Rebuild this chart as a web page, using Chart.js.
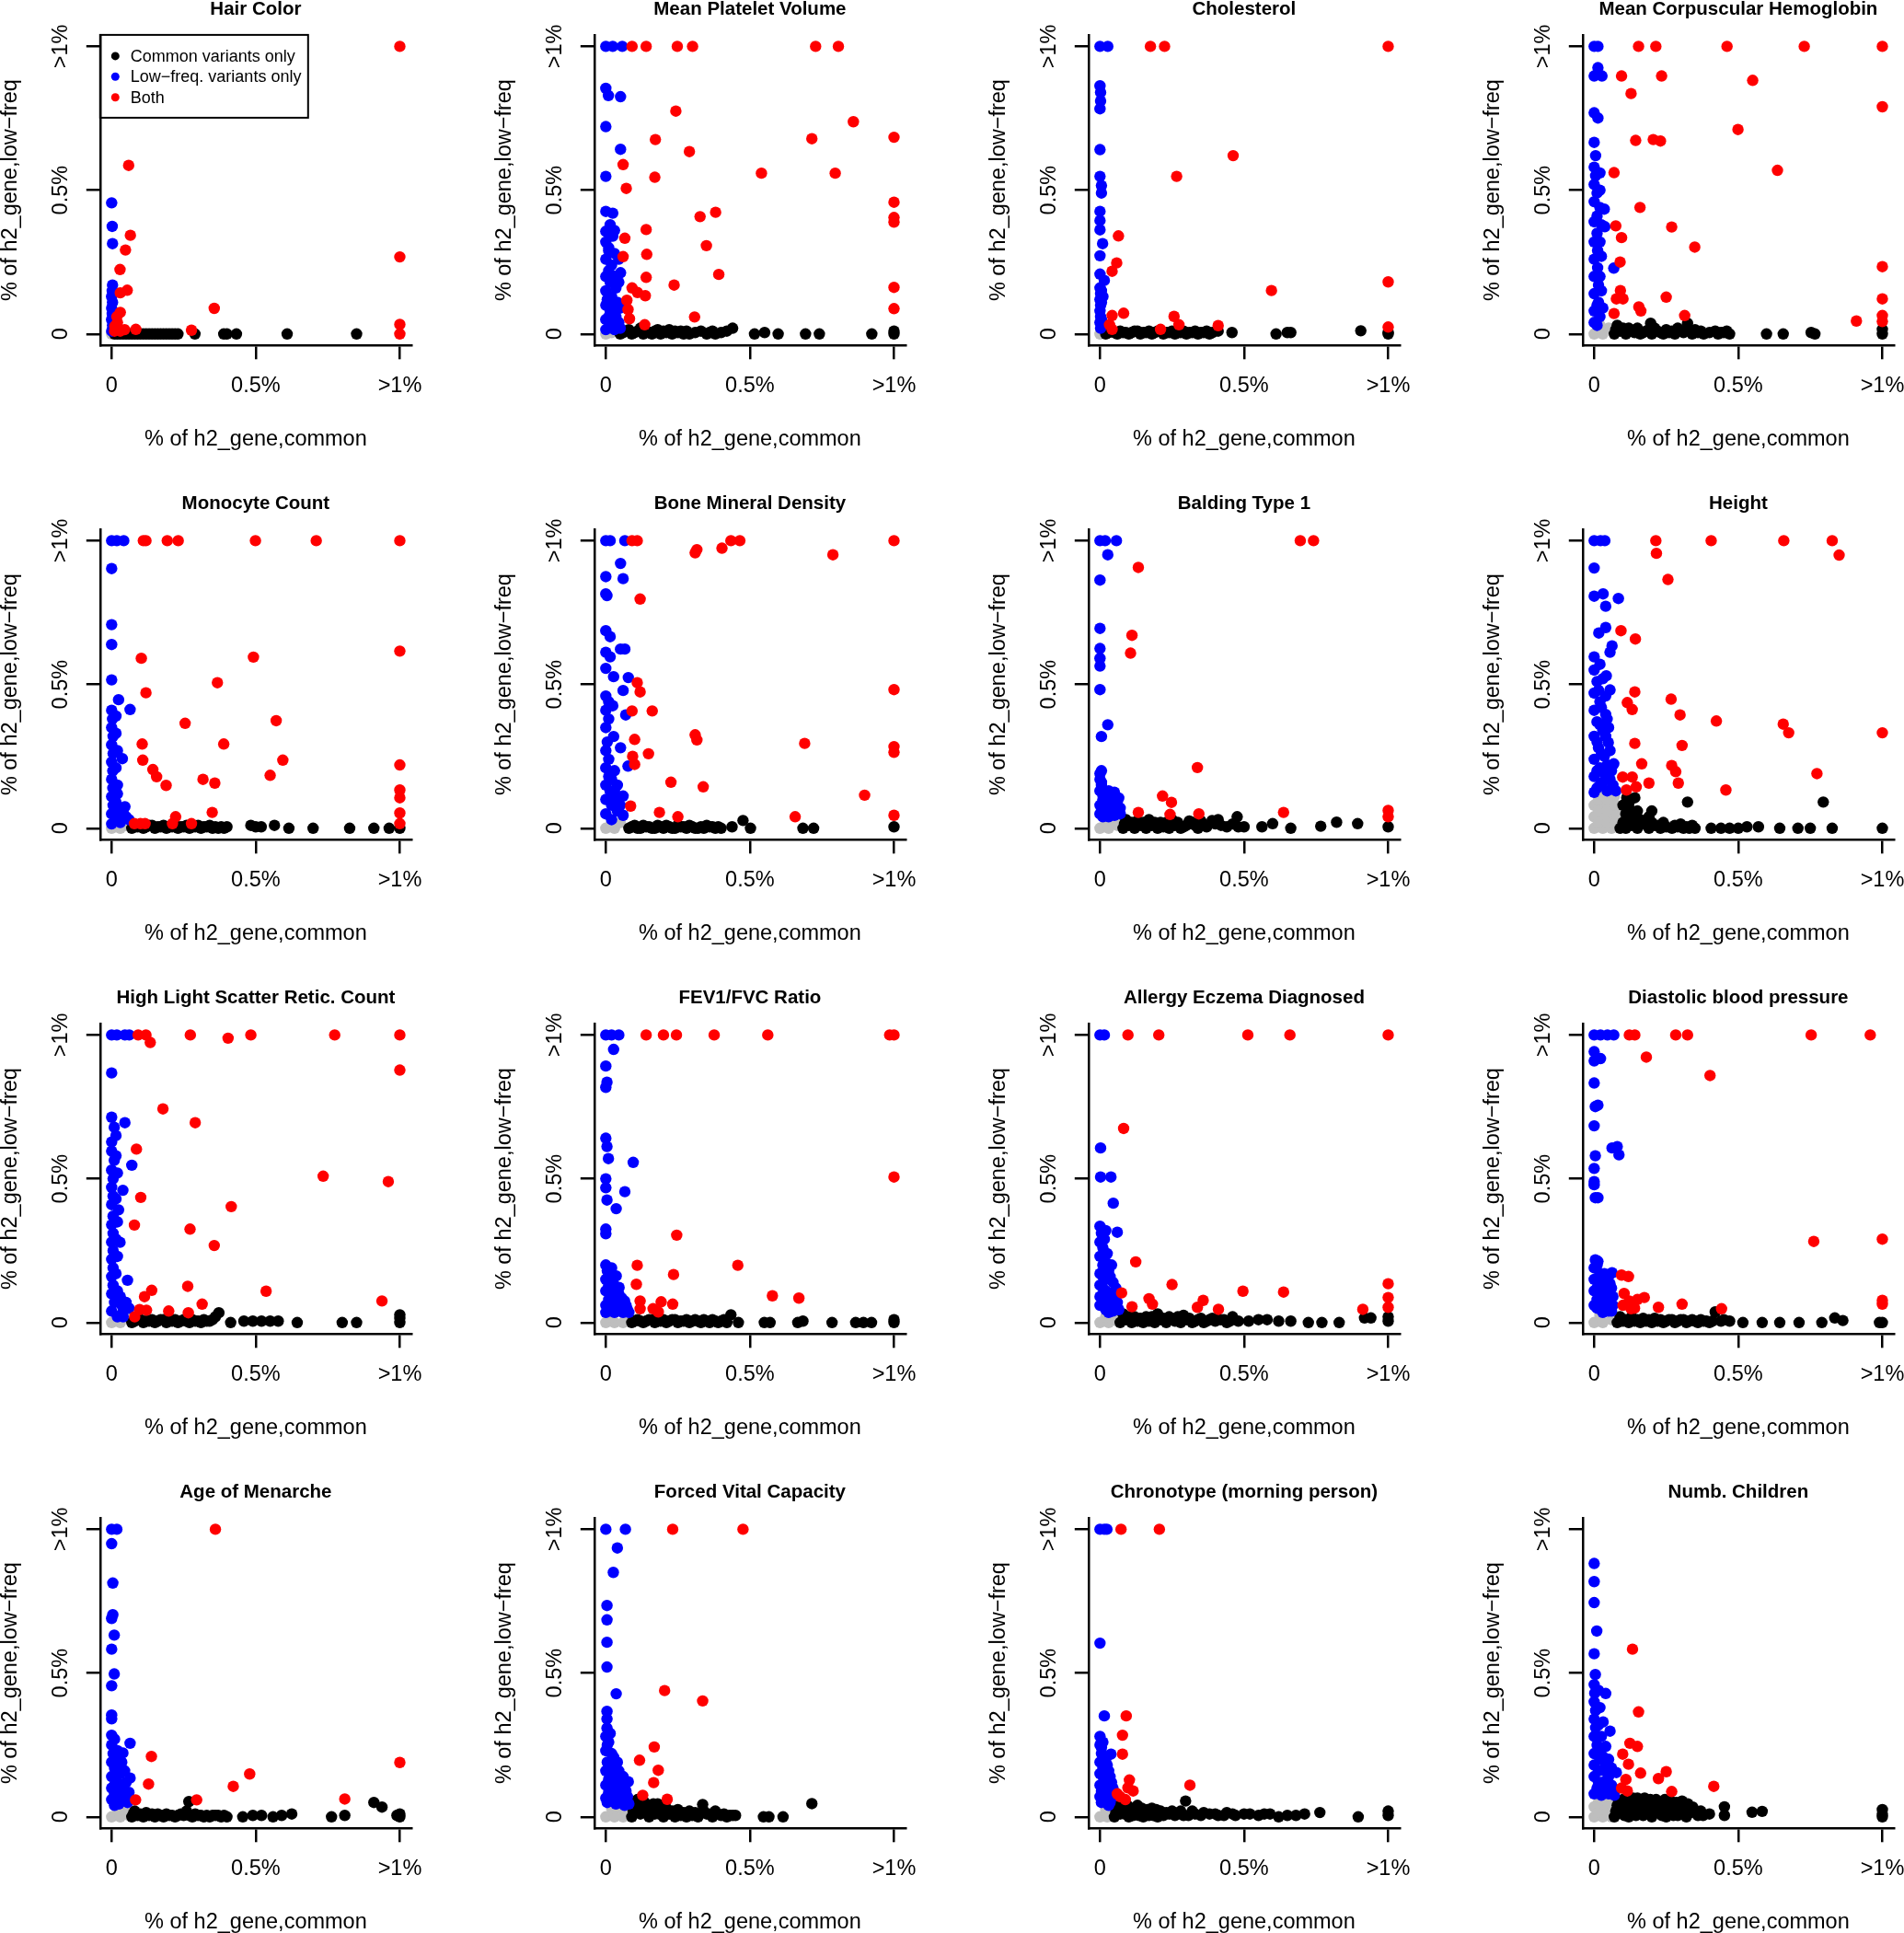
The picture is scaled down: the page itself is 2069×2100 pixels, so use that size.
<!DOCTYPE html>
<html>
<head>
<meta charset="utf-8">
<script src="https://cdn.jsdelivr.net/npm/chart.js@4.4.1/dist/chart.umd.min.js"></script>
<style>
  html, body { margin: 0; padding: 0; background: #fff; width: 2069px; height: 2100px; overflow: hidden; }
  .panel { position: absolute; width: 537px; height: 537px; }
</style>
</head>
<body>
<script>
// Titles and axis text
const panelTitles = [
  "Hair Color", "Mean Platelet Volume", "Cholesterol", "Mean Corpuscular Hemoglobin",
  "Monocyte Count", "Bone Mineral Density", "Balding Type 1", "Height",
  "High Light Scatter Retic. Count", "FEV1/FVC Ratio", "Allergy Eczema Diagnosed", "Diastolic blood pressure",
  "Age of Menarche", "Forced Vital Capacity", "Chronotype (morning person)", "Numb. Children"
];
const tickValues = [0, 0.5, 1];
const tickLabels = ["0", "0.5%", ">1%"];
const xTitle = "% of h2_gene,common";
const yTitle = "% of h2_gene,low\u2212freq";
const seriesNames = ["Common variants only", "Low\u2212freq. variants only", "Both"];

// Points [x, y] per panel (same order as panelTitles)
const commonOnly = [
  [[0.01,0],[0.02,0],[0.03,0],[0.04,0],[0.05,0],[0.06,0],[0.07,0],[0.08,0],[0.09,0],[0.1,0],[0.11,0],[0.12,0],[0.13,0],[0.14,0],[0.15,0],[0.16,0],[0.17,0],[0.18,0],[0.19,0],[0.2,0],[0.21,0],[0.22,0],[0.23,0],[0.289,0],[0.389,0],[0.4,0],[0.433,0],[0.609,0],[0.85,0]],
  [[0.05,0],[0.07,0.01],[0.09,0],[0.11,0.01],[0.13,0],[0.15,0.005],[0.17,0.01],[0.19,0],[0.21,0.005],[0.23,0],[0.25,0.005],[0.27,0],[0.29,0],[0.31,0.005],[0.36,0.005],[0.38,0],[0.4,0.005],[0.42,0.01],[0.44,0.02],[0.516,0],[0.551,0.005],[0.598,0],[0.693,0],[0.741,0],[0.923,0],[1,0.01],[1,0],
   [0.06,0.005],[0.08,0.015],[0.1,0.005],[0.12,0.02],[0.14,0.01],[0.16,0],[0.18,0.015],[0.2,0.01],[0.22,0.015],[0.24,0.01],[0.26,0.01],[0.28,0.01],[0.33,0.01],[0.35,0],[0.37,0.01]],
  [[0.02,0],[0.04,0.01],[0.06,0],[0.08,0.005],[0.1,0],[0.12,0.01],[0.14,0],[0.16,0.005],[0.18,0],[0.2,0.01],[0.22,0],[0.24,0.005],[0.26,0],[0.28,0.005],[0.3,0],[0.32,0.005],[0.34,0],[0.36,0.005],[0.38,0],[0.41,0.01],[0.458,0.005],[0.611,0],[0.65,0.005],[0.662,0.005],[0.905,0.011],[1,0.005],[1,0],
   [0.03,0.005],[0.05,0.005],[0.07,0.01],[0.09,0.005],[0.11,0.005],[0.13,0.01],[0.15,0.005],[0.17,0.01],[0.19,0.005],[0.21,0.01],[0.23,0.005],[0.25,0.01],[0.27,0.005],[0.29,0.01],[0.31,0.005],[0.33,0.01],[0.35,0.005],[0.37,0.01],[0.39,0.005]],
  [[0.07,0],[0.08,0.03],[0.09,0.01],[0.11,0],[0.12,0.02],[0.14,0.005],[0.16,0],[0.18,0.01],[0.196,0.037],[0.2,0],[0.22,0.01],[0.24,0],[0.26,0.005],[0.28,0],[0.3,0.01],[0.324,0.037],[0.34,0],[0.36,0.005],[0.38,0],[0.43,0],[0.45,0.005],[0.47,0],[0.598,0],[0.656,0],[0.753,0.005],[0.766,0],[1,0.016],[1,0],
   [0.075,0.015],[0.1,0.02],[0.13,0.01],[0.15,0.02],[0.17,0.005],[0.19,0.015],[0.21,0.02],[0.23,0.005],[0.25,0.015],[0.27,0.01],[0.29,0.02],[0.31,0.005],[0.33,0.01],[0.35,0.015],[0.37,0.01],[0.4,0.005],[0.42,0.01],[0.44,0.005],[0.46,0.01]],
  [[0.07,0],[0.09,0.005],[0.11,0],[0.13,0.01],[0.15,0],[0.17,0.005],[0.19,0],[0.21,0.005],[0.23,0],[0.25,0.005],[0.27,0],[0.29,0.005],[0.31,0],[0.33,0.005],[0.35,0],[0.37,0],[0.39,0],[0.483,0.01],[0.5,0.005],[0.519,0.005],[0.565,0.01],[0.615,0],[0.699,0],[0.826,0],[0.91,0],[0.963,0],[1,0],
   [0.08,0.005],[0.1,0.01],[0.12,0.005],[0.14,0.01],[0.16,0.005],[0.18,0.01],[0.2,0.005],[0.22,0.01],[0.24,0.005],[0.26,0.01],[0.28,0.005],[0.3,0.01],[0.32,0.005],[0.34,0.01],[0.36,0.005],[0.38,0.005],[0.4,0.005]],
  [[0.08,0],[0.1,0.01],[0.12,0],[0.14,0.005],[0.16,0],[0.18,0.01],[0.2,0],[0.22,0.005],[0.24,0],[0.26,0.005],[0.28,0],[0.3,0.005],[0.32,0],[0.34,0],[0.36,0.005],[0.38,0],[0.4,0],[0.438,0.005],[0.476,0.027],[0.502,0],[0.684,0],[0.721,0],[1,0.005],
   [0.09,0.005],[0.11,0],[0.13,0.01],[0.15,0.005],[0.17,0],[0.19,0.005],[0.21,0.01],[0.23,0],[0.25,0.01],[0.27,0.005],[0.29,0.01],[0.31,0],[0.33,0.005],[0.35,0.01],[0.37,0.005],[0.39,0.005]],
  [[0.08,0],[0.09,0.03],[0.1,0.01],[0.12,0],[0.13,0.025],[0.14,0.01],[0.16,0],[0.17,0.03],[0.18,0.01],[0.2,0],[0.21,0.02],[0.22,0.005],[0.24,0],[0.25,0.03],[0.26,0.01],[0.28,0],[0.3,0.01],[0.32,0.02],[0.34,0],[0.36,0.01],[0.389,0.027],[0.42,0.01],[0.44,0.005],[0.476,0.04],[0.5,0.005],[0.562,0.005],[0.599,0.016],[0.662,0],[0.766,0.007],[0.821,0.021],[0.894,0.016],[1,0.005],
   [0.085,0.015],[0.11,0.02],[0.15,0.02],[0.19,0.02],[0.23,0.02],[0.27,0.02],[0.29,0.005],[0.31,0.025],[0.33,0.01],[0.35,0.025],[0.37,0.005],[0.4,0.015],[0.41,0.03],[0.46,0.015],[0.48,0.005]],
  [[0.113,0.106],[0.141,0.106],[0.324,0.091],[0.795,0.091],[0.11,0.05],[0.13,0.06],[0.145,0.035],[0.2,0.06],[0.19,0.04],[0.09,0],[0.1,0.02],[0.11,0],[0.13,0.01],[0.15,0],[0.17,0.015],[0.19,0],[0.21,0.01],[0.23,0],[0.25,0.005],[0.27,0],[0.29,0.005],[0.31,0],[0.33,0],[0.35,0],[0.406,0],[0.44,0],[0.47,0],[0.5,0],[0.53,0.005],[0.57,0.005],[0.644,0],[0.707,0],[0.75,0],[0.826,0],[1,0],
   [0.1,0.08],[0.12,0.04],[0.16,0.03],[0.12,0.085],[0.15,0.06],[0.18,0.02],[0.2,0.02],[0.22,0.01],[0.24,0.02],[0.28,0.01],[0.3,0.015],[0.32,0.005],[0.34,0.01]],
  [[0.07,0],[0.09,0.01],[0.11,0],[0.13,0.005],[0.15,0],[0.17,0.01],[0.19,0],[0.21,0.005],[0.23,0],[0.25,0.01],[0.27,0],[0.29,0.005],[0.31,0],[0.33,0.005],[0.35,0.01],[0.372,0.034],[0.413,0],[0.459,0.005],[0.49,0.005],[0.52,0.005],[0.55,0.005],[0.578,0.005],[0.644,0],[0.8,0],[0.85,0],[1,0.027],[1,0.015],[1,0],
   [0.08,0.005],[0.1,0.01],[0.12,0.005],[0.14,0.01],[0.16,0.005],[0.18,0.01],[0.2,0.005],[0.22,0.01],[0.24,0.005],[0.26,0.005],[0.28,0.01],[0.3,0.005],[0.32,0.01],[0.34,0.005],[0.36,0.02]],
  [[0.09,0],[0.11,0.01],[0.13,0],[0.15,0.01],[0.17,0],[0.19,0.005],[0.21,0],[0.23,0.01],[0.25,0],[0.27,0.005],[0.29,0],[0.31,0.01],[0.33,0],[0.35,0.005],[0.37,0.01],[0.39,0],[0.41,0.01],[0.434,0.027],[0.46,0],[0.55,0],[0.57,0],[0.666,0],[0.684,0.005],[0.785,0],[0.867,0],[0.894,0],[0.922,0],[1,0.01],[1,0],
   [0.1,0.005],[0.12,0.005],[0.14,0.005],[0.16,0.01],[0.18,0.005],[0.2,0.01],[0.22,0.005],[0.24,0.01],[0.26,0.005],[0.28,0.01],[0.3,0.005],[0.32,0.005],[0.34,0.01],[0.36,0],[0.38,0.005],[0.4,0.005],[0.42,0]],
  [[0.07,0],[0.08,0.03],[0.09,0.01],[0.11,0],[0.12,0.02],[0.13,0.005],[0.15,0],[0.16,0.02],[0.17,0.005],[0.19,0],[0.2,0.03],[0.21,0.01],[0.23,0],[0.24,0.02],[0.26,0.005],[0.28,0],[0.29,0.025],[0.3,0.01],[0.32,0],[0.34,0.01],[0.36,0],[0.38,0.01],[0.4,0.005],[0.42,0.01],[0.44,0],[0.46,0.02],[0.48,0.005],[0.516,0.005],[0.55,0.01],[0.58,0.01],[0.62,0.005],[0.662,0.005],[0.723,0],[0.77,0],[0.83,0],[0.918,0.016],[0.94,0.016],[1,0.02],[1,0.005],
   [0.085,0.015],[0.1,0.02],[0.14,0.015],[0.18,0.02],[0.22,0.015],[0.25,0.01],[0.27,0.02],[0.31,0.015],[0.33,0.005],[0.35,0.015],[0.37,0.005],[0.39,0.015],[0.41,0.01],[0.43,0.01],[0.45,0.005]],
  [[0.08,0],[0.09,0.02],[0.1,0.005],[0.12,0],[0.13,0.02],[0.14,0.005],[0.16,0],[0.17,0.015],[0.18,0.005],[0.2,0],[0.21,0.015],[0.22,0.005],[0.24,0],[0.26,0.01],[0.28,0],[0.3,0.01],[0.32,0],[0.34,0.01],[0.36,0],[0.38,0.005],[0.42,0.037],[0.4,0],[0.44,0.005],[0.516,0],[0.583,0],[0.644,0],[0.711,0],[0.79,0],[0.835,0.016],[0.863,0.007],[0.99,0],[1,0],
   [0.09,0.005],[0.11,0.01],[0.15,0.01],[0.19,0.01],[0.23,0.01],[0.25,0.005],[0.27,0.01],[0.29,0.005],[0.31,0.01],[0.33,0.005],[0.35,0.005],[0.37,0.01],[0.39,0.005],[0.41,0.005],[0.45,0.01],[0.47,0.005]],
  [[0.07,0],[0.08,0.02],[0.09,0.005],[0.11,0],[0.12,0.015],[0.13,0.005],[0.15,0],[0.16,0.01],[0.18,0],[0.2,0.005],[0.22,0],[0.24,0.01],[0.26,0.02],[0.268,0.053],[0.28,0],[0.3,0.005],[0.32,0],[0.34,0],[0.36,0.005],[0.38,0],[0.4,0],[0.455,0],[0.49,0.005],[0.52,0.005],[0.56,0],[0.59,0.005],[0.625,0.01],[0.763,0],[0.809,0.005],[0.91,0.05],[0.938,0.034],[0.99,0.005],[1,0.01],[1,0],
   [0.075,0.01],[0.1,0.01],[0.14,0.01],[0.17,0.005],[0.19,0.01],[0.21,0.005],[0.23,0.005],[0.25,0.005],[0.27,0.005],[0.29,0.01],[0.31,0.005],[0.33,0.005],[0.35,0.005],[0.37,0.005],[0.39,0.005]],
  [[0.09,0],[0.1,0.03],[0.11,0.06],[0.12,0.01],[0.13,0.04],[0.14,0.02],[0.15,0],[0.16,0.03],[0.17,0.01],[0.18,0.045],[0.19,0.02],[0.2,0],[0.21,0.03],[0.22,0.01],[0.24,0],[0.25,0.025],[0.26,0.005],[0.28,0],[0.29,0.02],[0.3,0.005],[0.32,0],[0.336,0.043],[0.35,0.01],[0.37,0],[0.38,0.02],[0.4,0.005],[0.42,0],[0.44,0.005],[0.547,0],[0.566,0],[0.615,0],[0.715,0.046],
   [0.095,0.02],[0.105,0.045],[0.115,0.03],[0.125,0.015],[0.135,0.05],[0.145,0.035],[0.155,0.015],[0.165,0.045],[0.175,0.025],[0.185,0.01],[0.195,0.035],[0.23,0.02],[0.27,0.015],[0.31,0.015],[0.34,0.02],[0.36,0.01],[0.39,0.01],[0.41,0.01],[0.43,0.005],[0.45,0.005]],
  [[0.05,0],[0.06,0.03],[0.07,0.01],[0.08,0.045],[0.09,0.02],[0.1,0],[0.11,0.03],[0.12,0.01],[0.13,0.04],[0.14,0.015],[0.15,0],[0.16,0.02],[0.17,0.005],[0.18,0.03],[0.19,0.01],[0.2,0],[0.21,0.02],[0.22,0.005],[0.24,0.01],[0.26,0.005],[0.28,0.02],[0.297,0.055],[0.307,0.005],[0.33,0.01],[0.35,0.005],[0.38,0.01],[0.41,0.005],[0.44,0.015],[0.47,0.005],[0.5,0.01],[0.55,0.005],[0.59,0.01],[0.62,0],[0.65,0.005],[0.68,0.005],[0.71,0.01],[0.763,0.015],[0.896,0],[1,0.02],[1,0.005],
   [0.055,0.015],[0.065,0.045],[0.075,0.03],[0.085,0.01],[0.095,0.04],[0.105,0.015],[0.115,0.005],[0.125,0.025],[0.135,0.005],[0.145,0.03],[0.155,0.01],[0.165,0.025],[0.175,0.015],[0.185,0.005],[0.195,0.025],[0.23,0.015],[0.25,0.02],[0.27,0.01],[0.29,0.005],[0.32,0.02],[0.36,0.015],[0.4,0.01],[0.43,0.005],[0.46,0.01],[0.52,0.01],[0.57,0.01]],
  [[0.07,0],[0.08,0.04],[0.09,0.015],[0.1,0.06],[0.11,0.03],[0.12,0],[0.13,0.05],[0.14,0.02],[0.15,0.065],[0.16,0.035],[0.17,0.005],[0.18,0.05],[0.19,0.02],[0.2,0],[0.21,0.04],[0.22,0.015],[0.23,0.05],[0.24,0.025],[0.25,0],[0.26,0.04],[0.27,0.015],[0.28,0.03],[0.29,0.005],[0.3,0.045],[0.31,0.02],[0.32,0],[0.33,0.03],[0.342,0.034],[0.36,0.005],[0.378,0.005],[0.452,0.035],[0.452,0.005],[0.548,0.016],[0.583,0.019],[1,0.025],[1,0.01],[1,0],
   [0.075,0.02],[0.085,0.055],[0.095,0.03],[0.105,0.005],[0.115,0.045],[0.125,0.02],[0.135,0.065],[0.145,0.005],[0.155,0.045],[0.165,0.02],[0.175,0.065],[0.185,0.035],[0.195,0.06],[0.205,0.025],[0.215,0.06],[0.225,0.035],[0.235,0.005],[0.245,0.06],[0.255,0.025],[0.265,0.055],[0.275,0.005],[0.285,0.05],[0.295,0.025],[0.305,0.055],[0.315,0.005],[0.325,0.045],[0.335,0.015],[0.35,0.02],[0.37,0.02],[0.4,0.01]]
];

const lowFreqOnly = [
  [[0,0.456],[0.002,0.374],[0.003,0.314],[0.003,0.17],[0.002,0.15],[0,0.13],[0.003,0.11],[0,0.09],[0.002,0.07],[0,0.05],[0.003,0.03],[0,0.01]],
  [[0,1],[0.024,1],[0.057,1],[0,0.854],[0.009,0.829],[0.051,0.825],[0,0.721],[0.051,0.642],[0,0.548],[0,0.426],[0.024,0.42],[0,0.357],[0.024,0.34],[0,0.32],[0.01,0.29],[0,0.26],[0.02,0.24],[0.051,0.213],[0,0.2],[0.015,0.18],[0.035,0.16],[0,0.15],[0.02,0.13],[0.04,0.11],[0,0.1],[0.015,0.08],[0.035,0.06],[0,0.05],[0.02,0.03],[0,0.015],
   [0.01,0.3],[0.03,0.28],[0.045,0.26],[0.01,0.22],[0.03,0.2],[0.045,0.18],[0.005,0.12],[0.03,0.1],[0.05,0.09],[0.01,0.06],[0.045,0.04],[0.03,0.015],[0.05,0.02],[0.015,0.38],[0.03,0.36]],
  [[0,1],[0.027,1],[0,0.863],[0.002,0.84],[0.002,0.81],[0,0.783],[0,0.641],[0,0.548],[0.005,0.516],[0.005,0.49],[0,0.426],[0,0.394],[0,0.362],[0.009,0.314],[0,0.272],[0,0.208],[0.015,0.186],[0,0.16],[0.002,0.14],[0,0.12],[0.002,0.1],[0,0.08],[0.002,0.06],[0,0.04],[0.002,0.02],
   [0.005,0.05],[0.01,0.03],[0.005,0.11],[0.01,0.13],[0.005,0.15]],
  [[0,1],[0.013,1],[0.013,0.926],[0,0.897],[0.027,0.897],[0,0.769],[0.013,0.751],[0,0.666],[0,0.58],[0.005,0.55],[0,0.52],[0.01,0.49],[0,0.46],[0.035,0.434],[0.01,0.41],[0,0.39],[0.037,0.373],[0.01,0.35],[0,0.32],[0.012,0.29],[0,0.26],[0.068,0.229],[0.012,0.23],[0,0.2],[0.015,0.17],[0,0.14],[0.015,0.11],[0,0.08],[0.02,0.06],[0,0.04],
   [0.02,0.56],[0.02,0.5],[0.02,0.44],[0.025,0.38],[0.02,0.32],[0.025,0.27],[0.02,0.2],[0.025,0.15],[0.03,0.09],[0.01,0.03],[0.005,0.62],[0.01,0.1]],
  [[0,1],[0.018,1],[0.042,1],[0,0.903],[0,0.708],[0,0.639],[0,0.516],[0.024,0.447],[0.064,0.413],[0,0.41],[0.003,0.38],[0,0.35],[0.005,0.32],[0,0.29],[0.005,0.26],[0.037,0.242],[0,0.23],[0.004,0.2],[0,0.17],[0.004,0.14],[0,0.11],[0.046,0.075],[0.04,0.055],[0.005,0.08],[0,0.05],[0.02,0.03],[0,0.015],
   [0.015,0.39],[0.015,0.33],[0.02,0.27],[0.015,0.21],[0.02,0.15],[0.015,0.09],[0.03,0.06],[0.05,0.04],[0.06,0.03],[0.02,0.12],[0.03,0.02]],
  [[0,1],[0.015,1],[0.066,1],[0.051,0.921],[0,0.875],[0.06,0.868],[0,0.815],[0.004,0.809],[0,0.687],[0.015,0.666],[0.051,0.623],[0.066,0.623],[0,0.612],[0.015,0.596],[0,0.556],[0.027,0.527],[0.078,0.524],[0.06,0.479],[0,0.46],[0.01,0.44],[0.024,0.426],[0,0.41],[0.069,0.394],[0.01,0.38],[0,0.35],[0.027,0.319],[0.005,0.3],[0.051,0.28],[0,0.27],[0.01,0.24],[0.077,0.216],[0,0.21],[0.01,0.18],[0,0.15],[0.015,0.13],[0.06,0.112],[0,0.1],[0.02,0.08],[0.04,0.06],[0.06,0.045],[0,0.05],[0.02,0.03],
   [0.03,0.2],[0.04,0.15],[0.03,0.1],[0.05,0.08],[0.02,0.17],[0.03,0.13]],
  [[0,1],[0.018,1],[0.057,1],[0.027,0.951],[0,0.863],[0,0.695],[0,0.625],[0,0.591],[0,0.564],[0,0.482],[0.027,0.36],[0.005,0.319],[0,0.19],[0,0.17],[0.005,0.15],[0,0.13],[0.02,0.12],[0.045,0.11],[0.065,0.105],[0.01,0.1],[0.03,0.09],[0.055,0.08],[0,0.08],[0.02,0.065],[0.045,0.06],[0,0.05],[0.03,0.04],
   [0.03,0.13],[0.05,0.125],[0.06,0.09],[0.04,0.08],[0.015,0.085],[0.07,0.07],[0.05,0.045],[0.07,0.05],[0.01,0.04],[0.04,0.1],[0.01,0.115],[0.005,0.2],[0.005,0.16]],
  [[0,1],[0.022,1],[0.037,1],[0,0.905],[0,0.807],[0.031,0.815],[0.04,0.772],[0.084,0.799],[0.04,0.698],[0.016,0.679],[0.062,0.634],[0.055,0.612],[0,0.596],[0,0.55],[0.042,0.53],[0.01,0.51],[0.055,0.481],[0,0.47],[0.02,0.44],[0,0.41],[0.04,0.396],[0.01,0.37],[0.03,0.34],[0,0.32],[0.049,0.298],[0.015,0.28],[0.035,0.25],[0,0.24],[0.068,0.224],[0.02,0.21],[0.05,0.19],[0,0.18],[0.03,0.16],[0.065,0.15],[0.01,0.14],[0.045,0.13],[0,0.125],
   [0.02,0.57],[0.03,0.52],[0.015,0.48],[0.04,0.46],[0.025,0.42],[0.045,0.38],[0.02,0.36],[0.04,0.32],[0.055,0.27],[0.025,0.26],[0.045,0.22],[0.01,0.2],[0.035,0.19],[0.055,0.17],[0.02,0.15],[0.075,0.13],[0.06,0.2],[0.01,0.3],[0.05,0.35]],
  [[0,1],[0.018,1],[0.046,1],[0.061,1],[0,0.868],[0,0.714],[0.046,0.695],[0.009,0.679],[0,0.628],[0,0.596],[0.009,0.564],[0.07,0.547],[0,0.53],[0.005,0.5],[0.039,0.46],[0,0.47],[0.005,0.44],[0,0.41],[0.024,0.392],[0.005,0.37],[0,0.34],[0.005,0.31],[0.029,0.279],[0,0.28],[0.005,0.25],[0,0.22],[0.005,0.19],[0,0.16],[0.055,0.147],[0.005,0.13],[0,0.1],[0.01,0.07],[0.035,0.06],[0.04,0.04],[0,0.04],[0.02,0.02],
   [0.015,0.65],[0.015,0.58],[0.02,0.52],[0.015,0.43],[0.02,0.35],[0.015,0.29],[0.02,0.23],[0.015,0.17],[0.02,0.11],[0.03,0.09],[0.05,0.07],[0.06,0.05],[0.04,0.02]],
  [[0,1],[0.02,1],[0.045,1],[0.027,0.95],[0,0.892],[0.004,0.836],[0,0.818],[0,0.641],[0.004,0.612],[0.009,0.57],[0.095,0.557],[0,0.5],[0,0.469],[0.066,0.455],[0.004,0.426],[0.036,0.396],[0,0.325],[0,0.309],[0,0.2],[0.005,0.18],[0.036,0.162],[0,0.15],[0.01,0.13],[0.046,0.122],[0,0.11],[0.02,0.1],[0.055,0.085],[0.01,0.08],[0.035,0.07],[0,0.06],[0.07,0.06],[0.02,0.045],[0.05,0.04],[0,0.035],
   [0.02,0.19],[0.015,0.16],[0.025,0.14],[0.03,0.11],[0.045,0.1],[0.065,0.075],[0.04,0.055],[0.075,0.045],[0.01,0.05],[0.03,0.035],[0.06,0.035],[0.08,0.035]],
  [[0,1],[0.015,1],[0.002,0.607],[0.002,0.506],[0.038,0.506],[0.046,0.415],[0,0.335],[0.06,0.314],[0.005,0.31],[0,0.28],[0.01,0.26],[0,0.23],[0.01,0.2],[0.03,0.18],[0,0.17],[0.02,0.15],[0.045,0.14],[0,0.13],[0.02,0.11],[0.05,0.1],[0,0.09],[0.03,0.08],[0.06,0.07],[0,0.06],[0.02,0.045],[0.045,0.04],
   [0.02,0.32],[0.015,0.29],[0.025,0.24],[0.02,0.21],[0.04,0.2],[0.01,0.16],[0.035,0.16],[0.055,0.12],[0.01,0.12],[0.035,0.1],[0.015,0.07],[0.045,0.06],[0.065,0.045],[0.03,0.035]],
  [[0,1],[0.022,1],[0.046,1],[0.068,1],[0,0.942],[0,0.91],[0.022,0.918],[0,0.833],[0.004,0.751],[0.013,0.756],[0,0.684],[0.062,0.607],[0.08,0.612],[0.086,0.583],[0.004,0.58],[0,0.536],[0,0.49],[0,0.479],[0.004,0.434],[0.013,0.434],[0.004,0.218],[0.013,0.213],[0,0.19],[0.062,0.173],[0.02,0.17],[0,0.15],[0.04,0.14],[0.015,0.13],[0.06,0.12],[0,0.11],[0.03,0.1],[0.05,0.09],[0.01,0.08],[0.04,0.07],[0.065,0.06],[0,0.06],[0.025,0.05],[0.05,0.04],
   [0.01,0.2],[0.035,0.17],[0.05,0.16],[0.025,0.15],[0.055,0.135],[0.01,0.12],[0.035,0.115],[0.02,0.09],[0.065,0.09],[0.04,0.085],[0.01,0.05],[0.03,0.035],[0.06,0.04]],
  [[0,1],[0.018,1],[0,0.95],[0.004,0.813],[0.004,0.703],[0,0.69],[0.009,0.632],[0,0.583],[0.009,0.497],[0,0.456],[0,0.354],[0,0.341],[0,0.284],[0.064,0.256],[0,0.25],[0.039,0.222],[0.005,0.22],[0,0.19],[0.01,0.17],[0.03,0.15],[0.064,0.135],[0,0.14],[0.02,0.12],[0.04,0.1],[0,0.1],[0.02,0.08],[0.045,0.07],[0,0.06],[0.025,0.045],
   [0.01,0.27],[0.02,0.23],[0.015,0.2],[0.035,0.19],[0.02,0.16],[0.045,0.16],[0.05,0.12],[0.01,0.11],[0.03,0.1],[0.06,0.085],[0.01,0.08],[0.035,0.06],[0.055,0.05],[0.01,0.04]],
  [[0,1],[0.068,1],[0.04,0.935],[0.026,0.85],[0.004,0.735],[0.004,0.685],[0.004,0.607],[0.004,0.521],[0.036,0.428],[0.004,0.367],[0.004,0.341],[0.004,0.309],[0,0.28],[0.005,0.25],[0,0.23],[0.027,0.208],[0.005,0.19],[0.02,0.17],[0,0.16],[0.03,0.145],[0.01,0.13],[0.05,0.12],[0.078,0.122],[0,0.11],[0.025,0.1],[0.06,0.095],[0.01,0.085],[0.04,0.075],[0.075,0.07],[0,0.065],[0.025,0.055],[0.055,0.05],[0.08,0.045],
   [0.015,0.29],[0.01,0.26],[0.02,0.22],[0.04,0.19],[0.045,0.16],[0.015,0.15],[0.06,0.14],[0.035,0.13],[0.02,0.11],[0.045,0.1],[0.07,0.09],[0.015,0.07],[0.05,0.065],[0.005,0.05],[0.035,0.045],[0.065,0.04]],
  [[0,1],[0.015,1],[0.024,1],[0,0.604],[0.015,0.351],[0,0.28],[0,0.25],[0.038,0.218],[0.005,0.22],[0,0.19],[0.01,0.17],[0.03,0.16],[0,0.15],[0.02,0.13],[0.04,0.12],[0,0.11],[0.01,0.09],[0.03,0.08],[0,0.07],[0.015,0.055],[0.035,0.05],
   [0.01,0.26],[0.005,0.24],[0.02,0.2],[0.025,0.18],[0.01,0.14],[0.035,0.14],[0.045,0.1],[0.025,0.1],[0.005,0.09],[0.045,0.07],[0.02,0.07],[0.005,0.05],[0.03,0.04]],
  [[0,0.881],[0,0.818],[0,0.745],[0.009,0.646],[0,0.567],[0.004,0.495],[0.04,0.429],[0,0.46],[0.002,0.43],[0,0.4],[0.005,0.37],[0.031,0.33],[0,0.34],[0.055,0.298],[0.005,0.31],[0,0.28],[0.04,0.245],[0.01,0.25],[0,0.22],[0.02,0.2],[0.04,0.18],[0,0.18],[0.077,0.154],[0.015,0.16],[0.05,0.14],[0,0.14],[0.03,0.12],[0.06,0.11],[0.01,0.1],[0.04,0.09],[0,0.08],[0.025,0.075],
   [0.015,0.44],[0.02,0.38],[0.015,0.32],[0.025,0.28],[0.02,0.23],[0.03,0.21],[0.05,0.2],[0.06,0.17],[0.035,0.16],[0.015,0.12],[0.045,0.12],[0.065,0.1],[0.02,0.09],[0.05,0.08],[0.07,0.075]]
];

const bothTypes = [
  [[1,1],[0.059,0.586],[0.065,0.343],[0.048,0.292],[0.029,0.224],[0.03,0.143],[0.054,0.152],[0.03,0.075],[0.018,0.06],[0.011,0.027],[0.02,0.04],[0.01,0.01],[0.03,0.01],[0.045,0.015],[0.084,0.016],[0.277,0.013],[0.356,0.089],[1,0.268],[1,0.033],[1,0]],
  [[0.091,1],[0.14,1],[0.248,1],[0.301,1],[0.728,1],[0.807,1],[0.243,0.775],[0.859,0.738],[0.715,0.679],[1,0.684],[0.172,0.676],[0.29,0.634],[0.06,0.589],[0.17,0.545],[0.54,0.559],[0.796,0.559],[0.071,0.506],[1,0.458],[1,0.405],[1,0.389],[0.327,0.408],[0.381,0.423],[0.14,0.363],[0.066,0.333],[0.349,0.307],[0.06,0.269],[0.142,0.277],[0.392,0.207],[0.14,0.197],[0.237,0.17],[1,0.162],[0.091,0.16],[0.11,0.144],[0.137,0.133],[0.073,0.117],[0.077,0.085],[0.082,0.053],[0.135,0.032],[0.308,0.059],[1,0.088]],
  [[0.175,1],[0.224,1],[1,1],[0.462,0.62],[0.266,0.548],[0.064,0.341],[0.058,0.247],[0.042,0.218],[1,0.181],[0.595,0.151],[0.082,0.072],[0.042,0.064],[0.033,0.032],[0.042,0.016],[0.257,0.061],[0.274,0.032],[0.21,0.016],[0.41,0.029],[1,0.024]],
  [[0.154,1],[0.214,1],[0.461,1],[0.729,1],[1,1],[0.095,0.897],[0.234,0.897],[0.55,0.882],[0.128,0.836],[1,0.79],[0.499,0.711],[0.144,0.673],[0.205,0.676],[0.23,0.671],[0.069,0.561],[0.636,0.569],[0.159,0.44],[0.075,0.376],[0.095,0.335],[0.269,0.372],[0.349,0.302],[0.09,0.25],[1,0.234],[0.091,0.151],[0.077,0.122],[0.1,0.122],[0.25,0.128],[1,0.122],[0.155,0.094],[0.162,0.08],[0.069,0.071],[0.314,0.064],[0.91,0.045],[1,0.064],[1,0.043]],
  [[0.11,1],[0.119,1],[0.193,1],[0.231,1],[0.499,1],[0.71,1],[1,1],[0.103,0.591],[0.492,0.595],[1,0.616],[0.367,0.506],[0.119,0.471],[0.255,0.365],[0.571,0.374],[0.106,0.293],[0.389,0.293],[0.108,0.237],[0.594,0.237],[0.143,0.204],[0.156,0.179],[0.189,0.149],[0.317,0.17],[0.358,0.157],[0.55,0.184],[1,0.22],[1,0.133],[1,0.106],[1,0.053],[1,0.016],[0.349,0.055],[0.222,0.04],[0.211,0.016],[0.277,0.016],[0.079,0.016],[0.1,0.016],[0.116,0.016]],
  [[0.091,1],[0.109,1],[0.434,1],[0.465,1],[1,1],[0.31,0.958],[0.316,0.969],[0.403,0.974],[0.788,0.951],[0.119,0.797],[0.109,0.506],[0.119,0.474],[1,0.482],[0.091,0.408],[0.161,0.408],[0.31,0.325],[0.316,0.307],[0.1,0.309],[0.69,0.295],[1,0.284],[1,0.264],[0.093,0.25],[0.1,0.222],[0.148,0.259],[0.226,0.16],[0.338,0.144],[0.898,0.115],[0.086,0.077],[0.186,0.055],[0.25,0.04],[0.657,0.04],[1,0.045]],
  [[0.695,1],[0.741,1],[0.133,0.907],[0.111,0.671],[0.106,0.609],[0.338,0.211],[0.217,0.112],[0.248,0.09],[0.133,0.055],[0.243,0.048],[0.343,0.05],[0.637,0.055],[1,0.062],[1,0.04]],
  [[0.214,1],[0.406,1],[0.658,1],[0.826,1],[0.216,0.956],[0.85,0.95],[0.256,0.865],[0.093,0.687],[0.143,0.658],[0.141,0.474],[0.267,0.449],[0.115,0.437],[0.132,0.413],[0.298,0.394],[0.424,0.373],[0.656,0.362],[0.675,0.332],[1,0.332],[0.141,0.295],[0.305,0.288],[0.165,0.224],[0.269,0.218],[0.283,0.197],[0.773,0.19],[0.099,0.178],[0.132,0.178],[0.292,0.157],[0.19,0.157],[0.146,0.144],[0.112,0.133],[0.457,0.133]],
  [[0.092,1],[0.119,1],[0.134,0.974],[0.273,1],[0.404,0.989],[0.483,1],[0.774,1],[1,1],[1,0.878],[0.178,0.743],[0.29,0.695],[0.086,0.603],[0.734,0.509],[0.96,0.49],[0.101,0.435],[0.415,0.403],[0.079,0.339],[0.272,0.325],[0.356,0.268],[0.264,0.126],[0.536,0.109],[0.938,0.075],[0.139,0.112],[0.114,0.09],[0.314,0.064],[0.097,0.045],[0.121,0.043],[0.198,0.04],[0.266,0.034],[0.08,0.02]],
  [[0.14,1],[0.2,1],[0.245,1],[0.376,1],[0.562,1],[0.985,1],[1,1],[1,0.506],[0.246,0.304],[0.458,0.199],[0.109,0.199],[0.235,0.167],[0.106,0.133],[0.578,0.093],[0.67,0.085],[0.119,0.075],[0.192,0.072],[0.232,0.064],[0.164,0.048],[0.182,0.037],[0.119,0.048]],
  [[0.097,1],[0.204,1],[0.513,1],[0.659,1],[1,1],[0.082,0.675],[0.124,0.211],[0.25,0.132],[0.075,0.103],[0.496,0.109],[0.637,0.106],[1,0.135],[1,0.087],[0.17,0.083],[0.182,0.064],[0.111,0.055],[0.358,0.077],[0.338,0.053],[0.411,0.046],[0.912,0.046],[1,0.053]],
  [[0.122,1],[0.141,1],[0.283,1],[0.324,1],[0.753,1],[0.958,1],[0.181,0.923],[0.402,0.859],[0.762,0.282],[1,0.29],[0.095,0.165],[0.119,0.16],[0.104,0.101],[0.122,0.075],[0.15,0.08],[0.174,0.087],[0.128,0.048],[0.223,0.053],[0.305,0.064],[0.442,0.048],[1,0.077],[1,0.064],[0.1,0.06],[0.14,0.05]],
  [[0.36,1],[0.138,0.21],[1,0.189],[0.479,0.149],[0.128,0.114],[0.422,0.106],[0.083,0.059],[0.295,0.059],[0.809,0.062]],
  [[0.232,1],[0.476,1],[0.204,0.439],[0.336,0.403],[0.168,0.243],[0.117,0.197],[0.182,0.162],[0.166,0.119],[0.128,0.075],[0.213,0.061]],
  [[0.073,1],[0.206,1],[0.091,0.351],[0.078,0.284],[0.078,0.218],[0.102,0.128],[0.312,0.11],[0.097,0.101],[0.115,0.09],[0.07,0.07],[0.088,0.06],[0.06,0.08]],
  [[0.133,0.583],[0.154,0.365],[0.124,0.256],[0.15,0.245],[0.099,0.218],[0.119,0.183],[0.161,0.152],[0.223,0.133],[0.25,0.157],[0.269,0.088],[0.415,0.106],[0.11,0.13],[0.095,0.1],[0.115,0.09]]
];

// grey: neither class reaches the threshold
const neither = [
  [[0,0],[0.01,0.005]],
  [[0,0],[0.02,0.005],[0.04,0.01]],
  [[0,0],[0.01,0.01]],
  [[0,0],[0.03,0],[0.05,0.02],[0.02,0.03]],
  [[0,0],[0.03,0],[0.05,0.01]],
  [[0,0],[0.03,0],[0.05,0.02],[0.02,0.02]],
  [[0,0],[0.03,0],[0.06,0.01],[0.02,0.025],[0.05,0.03],[0.07,0.02]],
  [[0,0],[0.03,0],[0.06,0],[0,0.04],[0.03,0.04],[0.06,0.04],[0,0.08],[0.03,0.08],[0.06,0.08],[0.03,0.11],[0.07,0.11],
   [0.015,0.02],[0.045,0.02],[0.075,0.02],[0.015,0.06],[0.045,0.06],[0.075,0.06],[0.015,0.1],[0.045,0.1],[0.075,0.08],[0.08,0.04]],
  [[0,0],[0.03,0],[0.05,0.02],[0.02,0.02]],
  [[0,0],[0.03,0],[0.06,0],[0.02,0.02],[0.07,0.02],[0.08,0.01]],
  [[0,0],[0.03,0],[0.05,0.02],[0.02,0.02],[0.06,0.005]],
  [[0,0],[0.03,0],[0.06,0.01],[0.02,0.025],[0.06,0.03],[0.075,0.01]],
  [[0,0],[0.03,0],[0.05,0.02],[0.02,0.025],[0.06,0.005]],
  [[0,0],[0.03,0],[0.06,0],[0.02,0.03],[0.05,0.03],[0.08,0.02]],
  [[0,0],[0.025,0],[0.045,0.02],[0.02,0.025]],
  [[0,0],[0.03,0],[0.06,0],[0,0.035],[0.03,0.035],[0.06,0.035],[0.02,0.065],[0.05,0.065],
   [0.015,0.015],[0.045,0.015],[0.015,0.05],[0.045,0.05],[0.065,0.06],[0.065,0.015]]
];

const PANEL = 537;
const FONT = "'Liberation Sans', Arial, Helvetica, sans-serif";
const colors = { common: "#000000", low: "#0000ff", both: "#ff0000", none: "#bebebe" };

// y tick labels are turned like R's, and the legend box in the first panel
const rPlot = {
  id: "rPlot",
  afterDraw(chart, args, opts) {
    const ctx = chart.ctx, ys = chart.scales.y, area = chart.chartArea;
    ctx.save();
    ctx.fillStyle = "#000";
    ctx.font = "23.5px " + FONT;
    ctx.textAlign = "center";
    ctx.textBaseline = "middle";
    tickValues.forEach((v, i) => {
      ctx.save();
      ctx.translate(66.5, ys.getPixelForValue(v));
      ctx.rotate(-Math.PI / 2);
      ctx.fillText(tickLabels[i], 0, 0);
      ctx.restore();
    });
    if (opts.legend) {
      const left = area.left, top = area.top;
      ctx.lineWidth = 2;
      ctx.strokeStyle = "#000";
      ctx.strokeRect(left, top, 226, 90);
      ctx.font = "18px " + FONT;
      ctx.textAlign = "left";
      const cols = [colors.common, colors.low, colors.both];
      seriesNames.forEach((name, i) => {
        const y = top + 23 + i * 22.4;
        ctx.fillStyle = cols[i];
        ctx.beginPath();
        ctx.arc(left + 16.5, y, 4.5, 0, Math.PI * 2);
        ctx.fill();
        ctx.fillStyle = "#000";
        ctx.fillText(name, left + 33, y + 1);
      });
    }
    ctx.restore();
  }
};

function axis(isX) {
  return {
    type: "linear",
    min: -0.04,
    max: 1.04,
    afterBuildTicks: s => { s.ticks = tickValues.map(v => ({ value: v })); },
    afterFit: s => { if (isX) s.height = 161.7; else s.width = 108.8; },
    grid: { drawOnChartArea: false, drawTicks: true, tickLength: 15, color: "#000", lineWidth: 2.5 },
    border: { display: true, color: "#000", width: 2.5 },
    ticks: {
      display: isX,
      color: "#000",
      font: { family: FONT, size: 23.5 },
      padding: 15.6,
      maxRotation: 0,
      autoSkip: false,
      callback: (v, i) => tickLabels[i]
    },
    title: {
      display: true,
      text: isX ? xTitle : yTitle,
      color: "#000",
      font: { family: FONT, size: 23.5, lineHeight: 1 },
      padding: isX ? { top: 0, bottom: 48 } : { top: 0, bottom: 0 }
    }
  };
}

const toPts = list => list.map(([x, y]) => ({ x, y }));

panelTitles.forEach((title, i) => {
  const div = document.createElement("div");
  div.className = "panel";
  div.style.left = (i % 4) * PANEL + "px";
  div.style.top = Math.floor(i / 4) * PANEL + "px";
  const cv = document.createElement("canvas");
  cv.width = PANEL;
  cv.height = PANEL;
  div.appendChild(cv);
  document.body.appendChild(div);

  new Chart(cv, {
    type: "scatter",
    data: {
      datasets: [
        { label: seriesNames[2], data: toPts(bothTypes[i]), backgroundColor: colors.both },
        { label: seriesNames[1], data: toPts(lowFreqOnly[i]), backgroundColor: colors.low },
        { label: seriesNames[0], data: toPts(commonOnly[i]), backgroundColor: colors.common },
        { label: "Neither", data: toPts(neither[i]), backgroundColor: colors.none }
      ]
    },
    options: {
      responsive: false,
      animation: false,
      devicePixelRatio: 1,
      layout: { padding: { top: 0, right: 90, bottom: 0, left: 0 } },
      elements: { point: { radius: 6.2, hoverRadius: 6.2, borderWidth: 0 } },
      plugins: {
        legend: { display: false },
        tooltip: { enabled: false },
        title: {
          display: true,
          fullSize: false,
          text: title,
          color: "#000",
          font: { family: FONT, size: 20.5, weight: "bold", lineHeight: 1 },
          padding: { top: 0, bottom: 17.4 }
        },
        rPlot: { legend: i === 0 }
      },
      scales: { x: axis(true), y: axis(false) }
    },
    plugins: [rPlot]
  });
});
</script>
</body>
</html>
